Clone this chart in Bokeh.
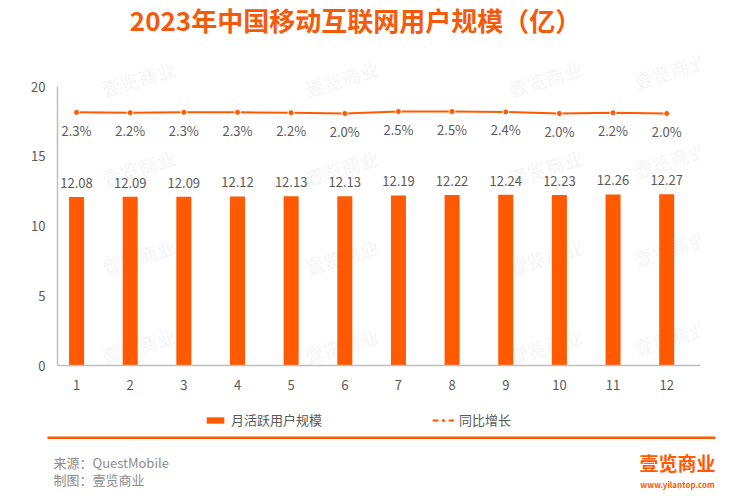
from bokeh.plotting import figure
from bokeh.layouts import column
from bokeh.models import (Range1d, ColumnDataSource, LabelSet, Label, BoxAnnotation,
                          Legend, LegendItem)
from bokeh.embed import file_html
from bokeh.resources import INLINE
from bokeh.core.properties import value

# ---------------- data ----------------
months = [1, 2, 3, 4, 5, 6, 7, 8, 9, 10, 11, 12]
month_labels = ["1", "2", "3", "4", "5", "6", "7", "8", "9", "10", "11", "12"]
mau = [12.08, 12.09, 12.09, 12.12, 12.13, 12.13, 12.19, 12.22, 12.24, 12.23, 12.26, 12.27]
growth = [2.3, 2.2, 2.3, 2.3, 2.2, 2.0, 2.5, 2.5, 2.4, 2.0, 2.2, 2.0]
y_ticks = [0, 5, 10, 15, 20]
title_text = "2023年中国移动互联网用户规模（亿）"
bar_name = "月活跃用户规模"
line_name = "同比增长"
source_text = "来源：QuestMobile"
maker_text = "制图：壹览商业"
logo_text = "壹览商业"
logo_url = "www.yilantop.com"

ORANGE = "#FF5A00"
GRAY = "#595959"
FONT = "Noto Sans CJK SC"

W = 730
MAIN_H = 400
FOOT_H = 95
FRAME_LEFT = 57     # page px
FRAME_BOTTOM = 365  # page px
PX_PER_UNIT = 279 / 20.0


def sx(px):
    return px - FRAME_LEFT


def sy(py):
    return FRAME_BOTTOM - py


src = ColumnDataSource(dict(
    m=months,
    v=mau,
    vt=["%.2f" % v for v in mau],
    g=growth,
    gt=["%.1f%%" % g for g in growth],
))

y_top = FRAME_BOTTOM / PX_PER_UNIT
p = figure(width=W, height=MAIN_H, output_backend="svg", toolbar_location=None,
           x_range=Range1d(0.645, 12.63), y_range=Range1d(0, y_top),
           min_border_left=FRAME_LEFT, min_border_right=30, min_border_top=0,
           min_border_bottom=MAIN_H - FRAME_BOTTOM)
p.frame_align = False
g_start = -61.0
g_per_px = 0.25
p.extra_y_ranges = {"g": Range1d(g_start, g_start + FRAME_BOTTOM * g_per_px)}
p.xgrid.visible = False
p.ygrid.visible = False
p.outline_line_color = None
p.background_fill_color = "white"
p.border_fill_color = "white"

# watermarks
wm_cols = [138, 341, 545, 670]
wm_rows = [78, 167, 256, 345]
for ci, cx in enumerate(wm_cols):
    for ry in wm_rows:
        yy = ry - 8 if ci == 3 else ry
        p.add_layout(Label(x=sx(cx), y=sy(yy), x_units="screen", y_units="screen",
                           text=logo_text, text_align="center", text_baseline="middle",
                           text_font=FONT, text_font_size="19px", text_font_style="bold",
                           text_color="#000000", text_alpha=0.05, angle=0.3,
                           level="underlay"))

# axes
for ax in (p.xaxis[0], p.yaxis[0]):
    ax.axis_line_color = "#bfbfbf"
    ax.axis_line_width = 1.5
    ax.major_tick_line_color = None
    ax.minor_tick_line_color = None
    ax.major_label_text_font = FONT
    ax.major_label_text_font_size = "13px"
    ax.major_label_text_color = GRAY
p.yaxis.ticker = y_ticks
p.yaxis.bounds = (0, 20)
p.yaxis.major_label_standoff = 6
p.xaxis.ticker = months
p.xaxis.major_label_overrides = {m: l for m, l in zip(months, month_labels)}
p.xaxis.major_label_standoff = 8

bars = p.vbar(x="m", top="v", width=0.28, source=src, fill_color=ORANGE, line_color=None)
p.line(x="m", y="g", source=src, y_range_name="g", line_color=ORANGE, line_width=2)
p.scatter(x="m", y="g", source=src, y_range_name="g", marker="circle", size=6,
          fill_color=ORANGE, line_color="white", line_width=1)

p.add_layout(LabelSet(x="m", y="v", text="vt", source=src, y_offset=14,
                      text_align="center", text_baseline="middle", text_font=value(FONT),
                      text_font_size=value("13px"), text_color=GRAY))
p.add_layout(LabelSet(x="m", y="g", text="gt", source=src, y_range_name="g", y_offset=-18,
                      text_align="center", text_baseline="middle", text_font=value(FONT),
                      text_font_size=value("13px"), text_color=GRAY))

# title
p.add_layout(Label(x=sx(355), y=sy(19), x_units="screen", y_units="screen",
                   text=title_text, text_align="center", text_baseline="middle",
                   text_font=FONT, text_font_size="26px", text_font_style="bold",
                   text_color="#F55A0A"))

# ---------------- footer figure (page y 400..495) ----------------
f = figure(width=W, height=FOOT_H, output_backend="svg", toolbar_location=None,
           x_range=Range1d(0, W), y_range=Range1d(MAIN_H + FOOT_H, MAIN_H),
           x_axis_type=None, y_axis_type=None,
           min_border_left=0, min_border_right=0, min_border_top=0, min_border_bottom=0)
f.frame_align = False
f.xgrid.visible = False
f.ygrid.visible = False
f.outline_line_color = None
f.background_fill_color = "white"
f.border_fill_color = "white"

# legend-only renderers (placed outside the visible range)
leg_bar = f.vbar(x=[-100], top=[0], width=1, fill_color=ORANGE, line_color=None)
leg_line = f.line(x=[-100, -90], y=[0, 0], line_color=ORANGE, line_width=2, line_dash="6 10")
leg_pt = f.scatter(x=[-100], y=[0], marker="circle", size=5, fill_color=ORANGE, line_color=None)

leg_y = MAIN_H + FOOT_H - 429
leg1 = Legend(items=[LegendItem(label=bar_name, renderers=[leg_bar])],
              location=(204, leg_y),
              glyph_width=22, glyph_height=8, label_height=14, label_standoff=5,
              padding=0, margin=0, border_line_color=None, background_fill_alpha=0,
              label_text_font=FONT, label_text_font_size="13px", label_text_color=GRAY)
leg2 = Legend(items=[LegendItem(label=line_name, renderers=[leg_line, leg_pt])],
              location=(432, leg_y),
              glyph_width=22, glyph_height=8, label_height=14, label_standoff=5,
              padding=0, margin=0, border_line_color=None, background_fill_alpha=0,
              label_text_font=FONT, label_text_font_size="13px", label_text_color=GRAY)
f.add_layout(leg1, "center")
f.add_layout(leg2, "center")

f.add_layout(BoxAnnotation(left=47, right=715, top=436, bottom=438.5,
                           fill_color=ORANGE, fill_alpha=1, line_color=None))
f.add_layout(Label(x=53, y=462, text=source_text, text_align="left", text_baseline="middle",
                   text_font=FONT, text_font_size="13px", text_color="#8c8c8c"))
f.add_layout(Label(x=53, y=479, text=maker_text, text_align="left", text_baseline="middle",
                   text_font=FONT, text_font_size="13px", text_color="#8c8c8c"))
f.add_layout(Label(x=677, y=462, text=logo_text, text_align="center", text_baseline="middle",
                   text_font=FONT, text_font_size="19px", text_font_style="bold",
                   text_color=ORANGE))
f.add_layout(Label(x=677, y=484, text=logo_url, text_align="center", text_baseline="middle",
                   text_font=FONT, text_font_size="8px", text_font_style="bold",
                   text_color=ORANGE))

layout = column(p, f, spacing=0)
open("out.html", "w").write(file_html(layout, INLINE))
